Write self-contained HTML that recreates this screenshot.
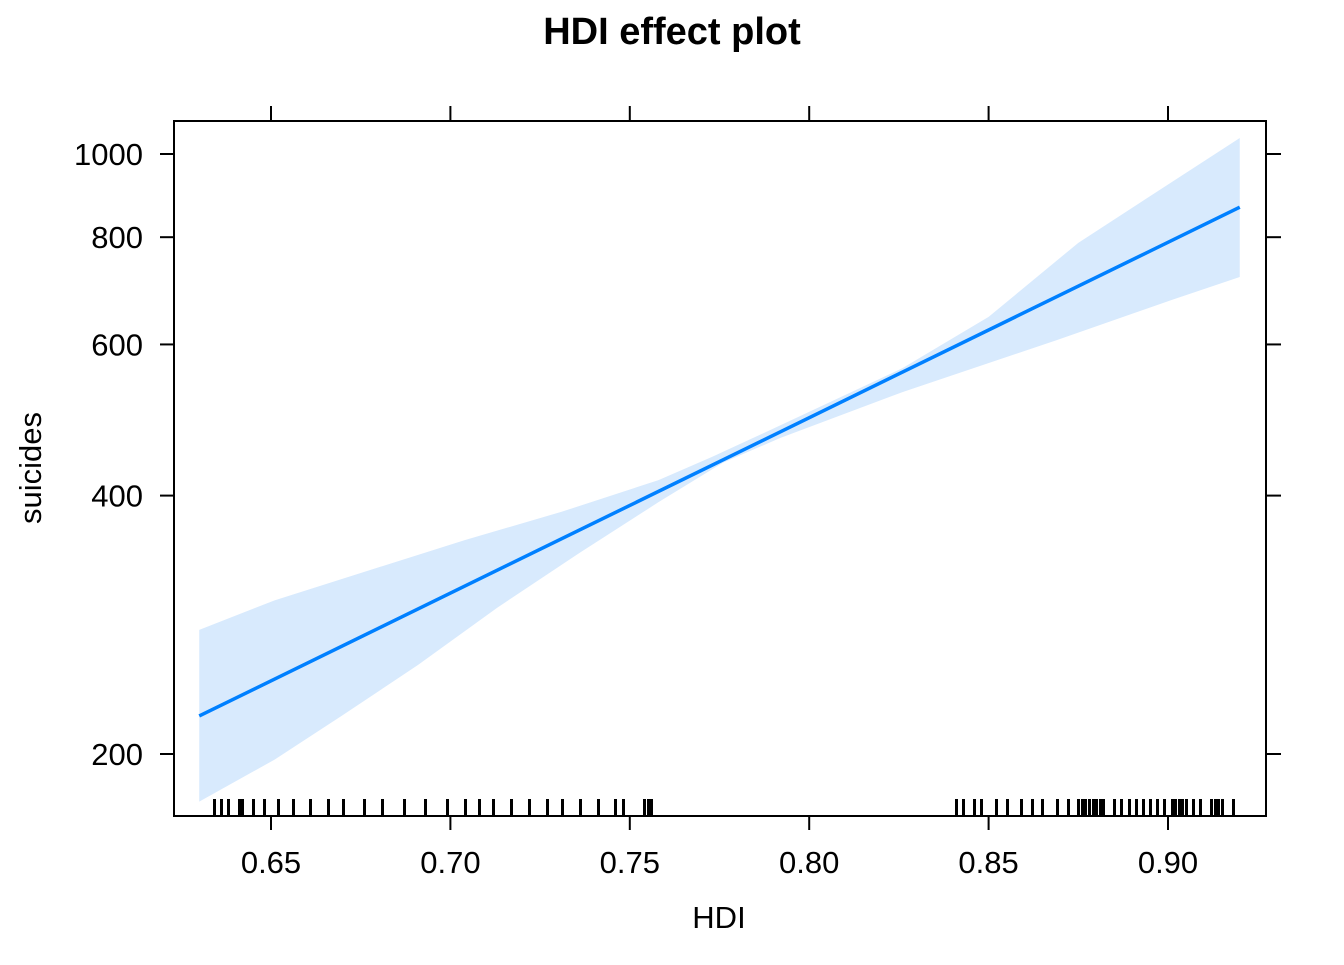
<!DOCTYPE html>
<html><head><meta charset="utf-8"><style>
body{margin:0;background:#fff;}
svg text{font-family:"Liberation Sans",Arial,sans-serif;}
</style></head><body>
<svg id="chart" width="1344" height="960" xmlns="http://www.w3.org/2000/svg">
<text x="672" y="44" text-anchor="middle" font-size="38" font-weight="bold">HDI effect plot</text>
<text x="719" y="928" text-anchor="middle" font-size="31">HDI</text>
<text transform="translate(41,468) rotate(-90)" text-anchor="middle" font-size="31">suicides</text>
<g id="plot"></g>
</svg>
<script>
const xTicks = [0.65, 0.70, 0.75, 0.80, 0.85, 0.90];
const xTickLabels = ["0.65", "0.70", "0.75", "0.80", "0.85", "0.90"];
const yTicks = [200, 400, 600, 800, 1000];
const yTickLabels = ["200", "400", "600", "800", "1000"];
const fitHdi = [0.63, 0.92];
const fitValues = [221.5, 867];
const upperHdi = [0.630, 0.651, 0.676, 0.704, 0.731, 0.758, 0.773, 0.792, 0.826, 0.850, 0.875, 0.920];
const upperValues = [279, 302, 326, 355, 383, 417, 444, 483, 563, 646, 788, 1044];
const lowerHdi = [0.630, 0.651, 0.670, 0.691, 0.713, 0.736, 0.758, 0.776, 0.792, 0.826, 0.869, 0.901, 0.920];
const lowerValues = [176, 197, 222, 254, 296, 343, 393, 437, 467, 528, 607, 676, 719];
const rugValues = [0.634,0.636,0.638,0.641,0.642,0.645,0.648,0.652,0.656,0.661,0.666,0.670,0.676,0.681,0.687,0.693,0.699,0.704,0.708,0.712,0.717,0.722,0.727,0.731,0.736,0.741,0.746,0.748,0.754,0.755,0.756,
0.841,0.843,0.846,0.848,0.852,0.855,0.859,0.862,0.865,0.869,0.872,0.875,0.876,0.877,0.878,0.879,0.880,0.881,0.882,0.885,0.887,0.889,0.891,0.893,0.895,0.897,0.899,0.901,0.902,0.903,0.904,0.905,0.907,0.909,0.912,0.912,0.913,0.913,0.914,0.915,0.918];

const L=174,R=1266,T=121,B=816;
function xs(v){return 271+(v-0.65)*3588;}
function ys(v){return 154-Math.log(v/1000)*372.8;}
const NS="http://www.w3.org/2000/svg";
const g=document.getElementById('plot');
function mk(tag,attrs){const e=document.createElementNS(NS,tag);for(const k in attrs)e.setAttribute(k,attrs[k]);g.appendChild(e);return e;}

let pts=upperHdi.map((h,i)=>xs(h)+','+ys(upperValues[i]));
for(let i=lowerHdi.length-1;i>=0;i--)pts.push(xs(lowerHdi[i])+','+ys(lowerValues[i]));
const band=mk('polygon',{points:pts.join(' '),fill:'#d8eafd',stroke:'none'});



const line=mk('polyline',{points:fitHdi.map((h,i)=>xs(h)+','+ys(fitValues[i])).join(' '),fill:'none',stroke:'#0080ff','stroke-width':3.5});



rugValues.forEach(v=>{
  const x=Math.round(xs(v))+0.5;
  const r=mk('line',{x1:x,x2:x,y1:799,y2:816,stroke:'#000','stroke-width':3});
  
  
});

const fr=mk('rect',{x:L,y:T,width:R-L,height:B-T,fill:'none',stroke:'#000','stroke-width':2});



xTicks.forEach((v,i)=>{
  const x=xs(v);
  const t1=mk('line',{x1:x,x2:x,y1:B,y2:B+14,stroke:'#000','stroke-width':2});
  
  
  const t2=mk('line',{x1:x,x2:x,y1:T,y2:T-15,stroke:'#000','stroke-width':2});
  
  
  const tx=mk('text',{x:x,y:873,'text-anchor':'middle','font-size':31});
  tx.textContent=xTickLabels[i];
  
  
});
yTicks.forEach((v,i)=>{
  const y=ys(v);
  const t1=mk('line',{x1:L-14,x2:L,y1:y,y2:y,stroke:'#000','stroke-width':2});
  
  
  const t2=mk('line',{x1:R,x2:R+15,y1:y,y2:y,stroke:'#000','stroke-width':2});
  
  
  const tx=mk('text',{x:143,y:y+11,'text-anchor':'end','font-size':31});
  tx.textContent=yTickLabels[i];
  
  
});
</script>
</body></html>
